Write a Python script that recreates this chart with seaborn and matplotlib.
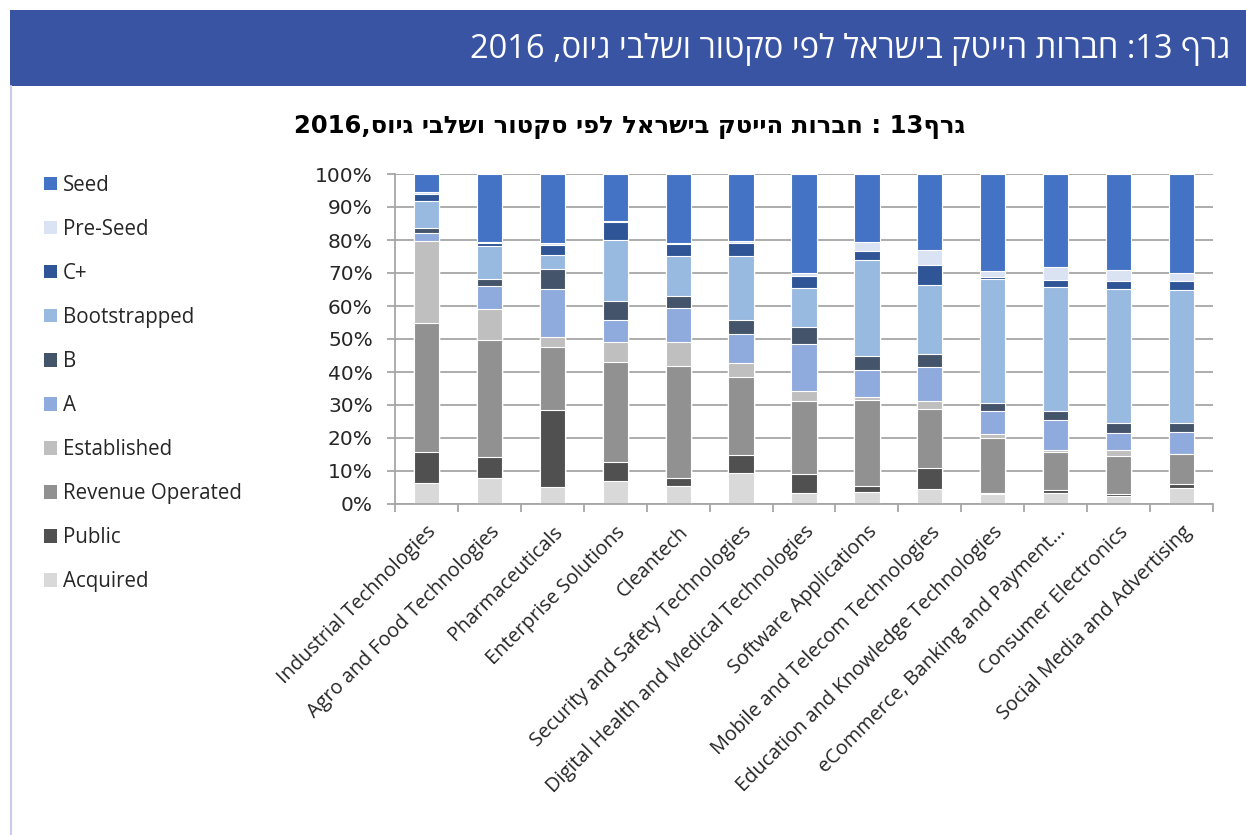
import re
import numpy as np
import pandas as pd
import matplotlib
matplotlib.use("Agg")
import matplotlib.pyplot as plt
from matplotlib.patches import Rectangle, Patch
from matplotlib.lines import Line2D
import seaborn as sns

# ---- data: share of companies by funding stage, per sector (%) ----
sectors = [
    "Industrial Technologies",
    "Agro and Food Technologies",
    "Pharmaceuticals",
    "Enterprise Solutions",
    "Cleantech",
    "Security and Safety Technologies",
    "Digital Health and Medical Technologies",
    "Software Applications",
    "Mobile and Telecom Technologies",
    "Education and Knowledge Technologies",
    "eCommerce, Banking and Payment\u2026",
    "Consumer Electronics",
    "Social Media and Advertising",
]

acquired = [6.5, 7.9, 5.2, 7.1, 5.4, 9.5, 3.4, 3.7, 4.4, 2.9, 3.2, 2.4, 4.7]
public = [9.3, 6.2, 23.4, 5.5, 2.6, 5.4, 5.8, 1.7, 6.5, 0.4, 1.1, 0.6, 1.4]
revenue_operated = [39.1, 35.5, 19.0, 30.5, 33.9, 23.7, 22.0, 26.2, 18.0, 16.7, 11.6, 11.5, 8.9]
established = [24.8, 9.4, 3.0, 6.1, 7.1, 4.0, 2.9, 0.7, 2.3, 1.1, 0.6, 1.8, 0.2]
round_a = [2.4, 7.1, 14.5, 6.7, 10.5, 8.8, 14.5, 8.3, 10.2, 7.0, 8.9, 5.1, 6.5]
round_b = [1.4, 2.2, 6.0, 5.5, 3.5, 4.3, 5.0, 4.3, 4.0, 2.5, 2.9, 3.1, 2.8]
bootstrapped = [8.4, 9.9, 4.5, 18.5, 12.2, 19.4, 11.9, 28.9, 21.1, 37.6, 37.5, 40.7, 40.4]
round_c_plus = [1.9, 0.8, 3.0, 5.5, 3.5, 3.9, 3.6, 2.8, 5.9, 0.5, 2.2, 2.4, 2.8]
pre_seed = [0.6, 0.5, 0.6, 0.3, 0.5, 0.7, 0.9, 2.7, 4.7, 2.0, 3.7, 3.4, 2.4]
seed = [5.6, 20.5, 20.8, 14.3, 20.8, 20.3, 30.0, 20.7, 22.9, 29.3, 28.3, 29.0, 29.9]

# stacking order, bottom to top
stages = ["Acquired", "Public", "Revenue Operated", "Established", "A", "B",
          "Bootstrapped", "C+", "Pre-Seed", "Seed"]
stage_values = [acquired, public, revenue_operated, established, round_a, round_b,
                bootstrapped, round_c_plus, pre_seed, seed]
stage_colors = ["#D9D9D9", "#505050", "#919191", "#BFBFBF", "#8FAADC", "#44546A",
                "#99BAE0", "#2F5597", "#DAE3F3", "#4472C4"]

yticks = [0, 10, 20, 30, 40, 50, 60, 70, 80, 90, 100]
ytick_labels = [f"{v}%" for v in yticks]

title = "גרף 13: חברות הייטק בישראל לפי סקטור ושלבי גיוס, 2016"
subtitle = "גרף13 : חברות הייטק בישראל לפי סקטור ושלבי גיוס,2016"


def visual_rtl(text):
    """Reorder a right-to-left line for left-to-right drawing, keeping numbers intact."""
    rev = text[::-1]
    return re.sub(r"\d+", lambda m: m.group(0)[::-1], rev)


sns.set_theme(style="white")
plt.rcParams["font.family"] = ["Open Sans", "DejaVu Sans"]

W, H = 1246, 835
fig = plt.figure(figsize=(W / 100, H / 100), dpi=100)
fig.patch.set_facecolor("white")

# header band and left frame line
fig.patches.append(Rectangle((10 / W, 1 - 86 / H), 1 - 10 / W, 76 / H,
                             transform=fig.transFigure, facecolor="#3A54A4",
                             edgecolor="none", zorder=0))
fig.lines.append(Line2D([10.5 / W, 10.5 / W], [0, 1 - 86 / H], transform=fig.transFigure,
                        color="#C9CCEA", lw=1.6))

fig.text(1230 / W, 1 - 49 / H, visual_rtl(title), ha="right", va="center",
         color="white", fontsize=23.5, family=["Open Sans", "DejaVu Sans"])
fig.text(630 / W, 1 - 127 / H, visual_rtl(subtitle), ha="center", va="center",
         color="black", fontsize=17.5, fontweight="bold", family=["DejaVu Sans"])

# plotting area
ax = fig.add_axes([395 / W, 1 - 504 / H, (1213 - 395) / W, (504 - 174) / H])

cumulative = np.cumsum(np.array(stage_values), axis=0)
long_rows = []
for name, col in zip(stages, cumulative):
    for sector, v in zip(sectors, col):
        long_rows.append({"sector": sector, "stage": name, "top": v})
df = pd.DataFrame(long_rows)

# draw tallest cumulative layer first so each lower layer overlays it
for name, color in reversed(list(zip(stages, stage_colors))):
    sub = df[df["stage"] == name]
    sns.barplot(data=sub, x="sector", y="top", order=sectors, color=color,
                saturation=1, width=0.4, edgecolor="white", linewidth=0.8,
                ax=ax, errorbar=None)

ax.set_xlim(-0.5, len(sectors) - 0.5)
ax.set_ylim(0, 100)
ax.set_yticks(yticks)
ax.set_yticklabels(ytick_labels, fontsize=14.5, family=["DejaVu Sans"])
ax.set_xlabel("")
ax.set_ylabel("")
ax.set_axisbelow(True)
ax.yaxis.grid(True, color="#A6A6A6", lw=1.3)
ax.xaxis.grid(False)
for side in ["top", "right"]:
    ax.spines[side].set_visible(False)
for side in ["left", "bottom"]:
    ax.spines[side].set_color("#A6A6A6")
    ax.spines[side].set_linewidth(1.3)

ax.tick_params(axis="y", which="major", direction="out", length=6, width=1.3,
               color="#A6A6A6", pad=10, left=True)
ax.set_xticks(range(len(sectors)))
ax.set_xticklabels(sectors, rotation=45, ha="right", rotation_mode="anchor",
                   fontsize=14.3)
ax.tick_params(axis="x", which="major", length=0, pad=13)
ax.set_xticks(np.arange(-0.5, len(sectors), 1), minor=True)
ax.tick_params(axis="x", which="minor", direction="out", length=6, width=1.3,
               color="#A6A6A6", bottom=True)

# legend: top of stack first
handles = [Patch(facecolor=c, edgecolor="none") for c in reversed(stage_colors)]
labels = list(reversed(stages))
fig.legend(handles, labels, loc="upper left", bbox_to_anchor=(44 / W, 1 - 175 / H),
           frameon=False, fontsize=14.8, handlelength=0.62, handleheight=0.62,
           handletextpad=0.3, labelspacing=1.12, borderpad=0, borderaxespad=0)

fig.savefig("out.png", dpi=100, facecolor="white")
